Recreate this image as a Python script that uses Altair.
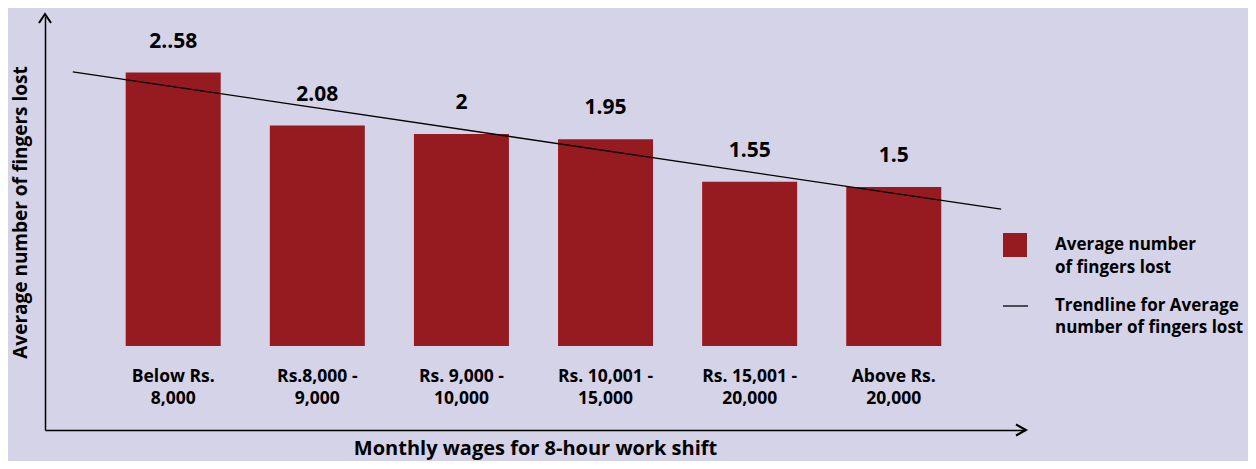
import altair as alt
import pandas as pd

# ---- data ----
categories = ["Below Rs.\n8,000", "Rs.8,000 -\n9,000", "Rs. 9,000 -\n10,000",
              "Rs. 10,001 -\n15,000", "Rs. 15,001 -\n20,000", "Above Rs.\n20,000"]
values = [2.58, 2.08, 2.0, 1.95, 1.55, 1.5]
value_labels = ["2..58", "2.08", "2", "1.95", "1.55", "1.5"]
legend_labels = ["Average number\nof fingers lost", "Trendline for Average\nnumber of fingers lost"]
x_title = "Monthly wages for 8-hour work shift"
y_title = "Average number of fingers lost"

BG = "#d5d3e7"
RED = "#951b20"
FONT = "Open Sans"

df = pd.DataFrame({
    "x": list(range(len(values))),
    "value": values,
    "label": value_labels,
    "cat": categories,
})

xscale = alt.Scale(domain=[-0.855, 5.876], nice=False, zero=False)
yscale = alt.Scale(domain=[-0.792, 3.113], nice=False, zero=False)

base = alt.Chart(df)

bars = base.mark_bar(size=95, color=RED).encode(
    x=alt.X("x:Q", scale=xscale, axis=alt.Axis(
        title=x_title, domain=True, domainColor="black", domainWidth=1.5,
        ticks=False, labels=False, grid=False, titleFont=FONT, titleFontSize=20,
        titleFontWeight="bold", titleColor="black", titlePadding=8)),
    y=alt.Y("value:Q", scale=yscale, axis=alt.Axis(
        title=y_title, domain=True, domainColor="black", domainWidth=1.5,
        ticks=False, labels=False, grid=False, titleFont=FONT, titleFontSize=19,
        titleFontWeight="bold", titleColor="black", titleX=-25, titleY=196,
        titleAngle=270, titleBaseline="middle", titleAlign="center")),
    y2=alt.datum(0),
)

vlabels = base.mark_text(font=FONT, fontSize=21, fontWeight="bold", color="black",
                         baseline="middle", dy=-31).encode(
    x=alt.X("x:Q", scale=xscale), y=alt.Y("value:Q", scale=yscale), text="label:N")

clabels = base.mark_text(font=FONT, fontSize=17.5, fontWeight="bold", color="black",
                         baseline="middle", lineBreak="\n", lineHeight=22).encode(
    x=alt.X("x:Q", scale=xscale), y=alt.value(361), text="cat:N")

trend = base.mark_line(color="black", strokeWidth=1.3).transform_regression(
    "x", "value", extent=[-0.697, 5.745]).encode(
    x=alt.X("x:Q", scale=xscale), y=alt.Y("value:Q", scale=yscale))

arrow_up = base.mark_point(shape="M-0.67,1L0,0L0.67,1", size=324, filled=False,
                           stroke="black", strokeWidth=2, opacity=1).encode(
    x=alt.value(0), y=alt.value(-2)).transform_filter("datum.x == 0")
arrow_right = base.mark_point(shape="M-1,-0.55L0,0L-1,0.55", size=400, filled=False,
                              stroke="black", strokeWidth=2, opacity=1).encode(
    x=alt.value(981), y=alt.value(414)).transform_filter("datum.x == 0")

leg_df = pd.DataFrame({"text": legend_labels, "i": [0, 1]})
leg = alt.Chart(leg_df)
leg_sq = leg.mark_square(size=576, color=RED, opacity=1).encode(
    x=alt.value(970), y=alt.value(229)).transform_filter("datum.i == 0")
leg_line = leg.mark_rule(color="black", strokeWidth=1.3).encode(
    x=alt.value(958), x2=alt.value(983), y=alt.value(290)).transform_filter("datum.i == 1")
leg_text = leg.mark_text(font=FONT, fontSize=17, fontWeight="bold", color="black",
                         align="left", baseline="middle", lineBreak="\n", lineHeight=23).encode(
    x=alt.value(1010), y=alt.value(229), text="text:N").transform_filter("datum.i == 0")
leg_text2 = leg.mark_text(font=FONT, fontSize=17, fontWeight="bold", color="black",
                          align="left", baseline="middle", lineBreak="\n", lineHeight=22).encode(
    x=alt.value(1010), y=alt.value(290), text="text:N").transform_filter("datum.i == 1")

chart = alt.layer(bars, trend, vlabels, clabels, arrow_up, arrow_right,
                  leg_sq, leg_line, leg_text, leg_text2).properties(
    width=980, height=414,
    autosize=alt.AutoSizeParams(type="none"),
    padding={"left": 37, "top": 8, "right": 223, "bottom": 31},
    background=BG,
).configure_view(stroke=None)

chart.save("out.html", embed_options={"renderer": "svg", "actions": False})
